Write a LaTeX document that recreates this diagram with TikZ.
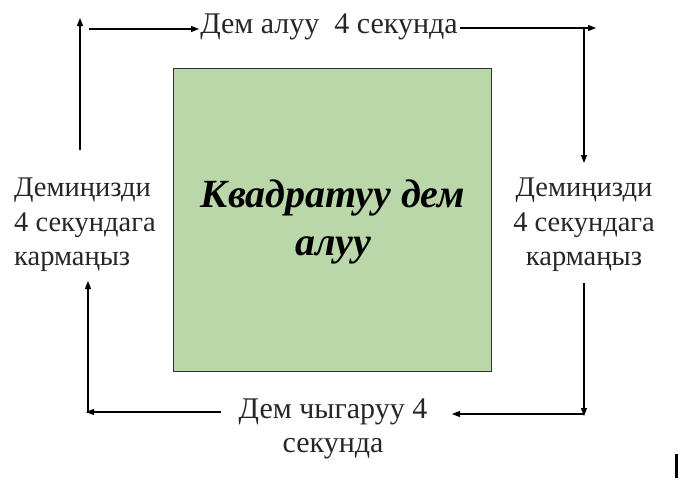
\documentclass[tikz,border=0pt]{standalone}
\usepackage{fontspec}
\setmainfont{Liberation Serif}
\usetikzlibrary{arrows.meta}
\begin{document}
\begin{tikzpicture}[x=1pt,y=-1pt,
  arr/.style={line width=1.1pt,-{Triangle[length=8pt,width=6pt]}},
  lbl/.style={inner sep=0pt,font=\fontsize{30}{34}\selectfont,text=black!85},
  slbl/.style={inner sep=0pt,font=\fontsize{28.5}{34.5}\selectfont,text=black!85},
  sq/.style={draw=black!80,line width=1pt,fill=sqgreen}]
\definecolor{sqgreen}{HTML}{B9D7A8}
\useasboundingbox (0,0) rectangle (685,479);
\node[sq,minimum width=318pt,minimum height=303pt,anchor=north west] (box) at (173,68) {};
\node[font=\fontsize{40}{48}\selectfont\bfseries\itshape,align=center,inner sep=0pt] (title) at (333,222)
  {Квадратуу дем\\алуу};
\node[lbl] (top) at (329,27) {Дем алуу\ \ 4 секунда};
\node[slbl,align=left,anchor=west] (left) at (14,225) {Демиңизди\\4 секундага\\кармаңыз};
\node[slbl,align=center] (right) at (584,225) {Демиңизди\\4 секундага\\кармаңыз};
\node[lbl,align=center] (bot) at (333,429) {Дем чыгаруу 4\\секунда};
\coordinate (a1) at (80,150); \coordinate (a2) at (80,18);
\coordinate (b1) at (89,29); \coordinate (b2) at (199,29);
\coordinate (c1) at (460,28); \coordinate (c2) at (596,28);
\coordinate (d1) at (584,28); \coordinate (d2) at (584,163);
\coordinate (e1) at (584,283); \coordinate (e2) at (584,416);
\coordinate (f1) at (584,414); \coordinate (f2) at (452,414);
\coordinate (g1) at (221,412); \coordinate (g2) at (86,412);
\coordinate (h1) at (88,413); \coordinate (h2) at (88,281);
\draw[arr] (a1) -- (a2);
\draw[arr] (b1) -- (b2);
\draw[arr] (c1) -- (c2);
\draw[arr] (d1) -- (d2);
\draw[arr] (e1) -- (e2);
\draw[arr] (f1) -- (f2);
\draw[arr] (g1) -- (g2);
\draw[arr] (h1) -- (h2);
\fill[black] (675,454) rectangle (678,478);
\end{tikzpicture}
\end{document}
